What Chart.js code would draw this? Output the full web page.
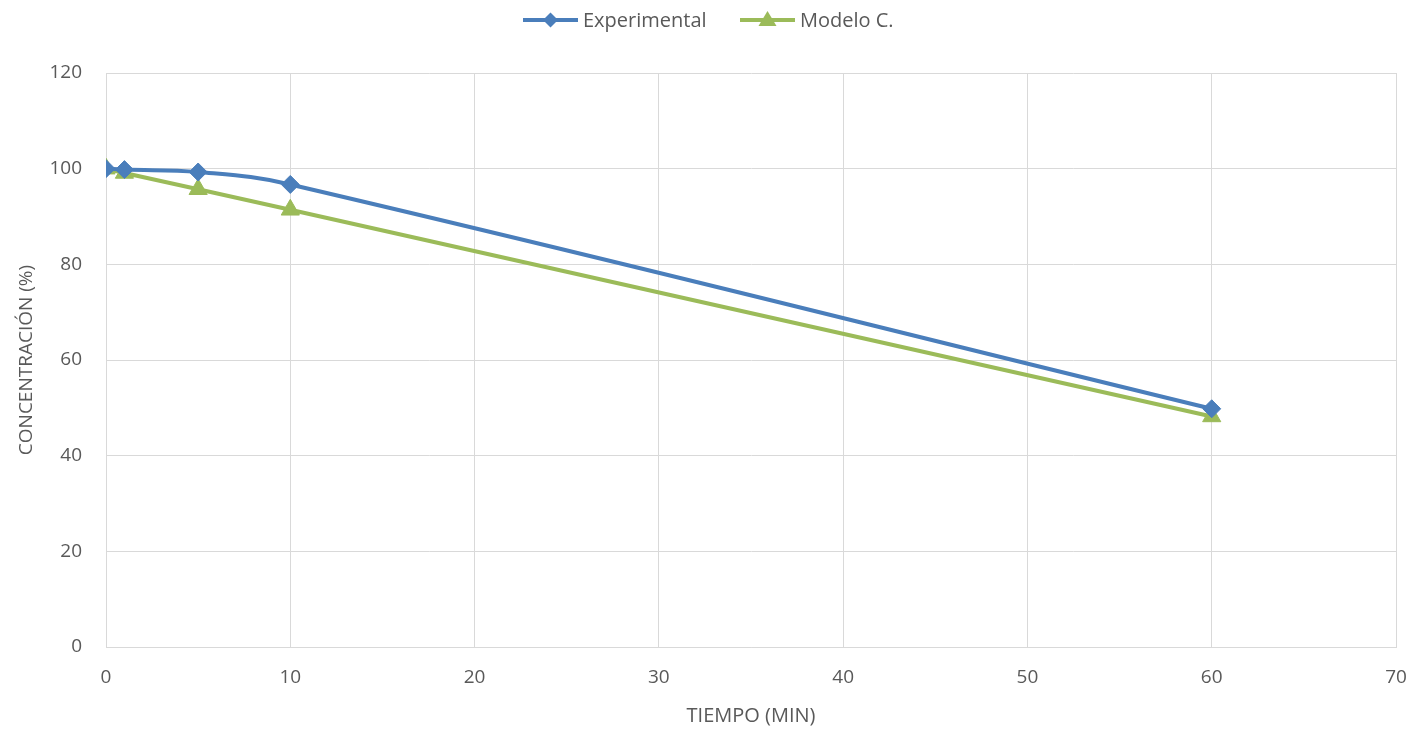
<!DOCTYPE html>
<html><head><meta charset="utf-8">
<script src="https://cdn.jsdelivr.net/npm/chart.js@4.4.1/dist/chart.umd.min.js"></script>
<style>html,body{margin:0;padding:0;background:#fff}#wrap{width:1414px;height:729px}</style>
</head><body><div id="wrap"><canvas id="c" width="1414" height="729"></canvas></div>
<script>
const tiempo = [0, 1, 5, 10, 60];
const experimental = [100, 99.8, 99.3, 96.7, 49.8];
const modelo = [100, 99.1, 95.7, 91.4, 48.2];
const xTicks = [0, 10, 20, 30, 40, 50, 60, 70];
const yTicks = [0, 20, 40, 60, 80, 100, 120];
const seriesNames = ['Experimental', 'Modelo C.'];

const toXY = (xs, ys) => xs.map((x, i) => ({x: x, y: ys[i]}));
const font = "'Open Sans', 'Liberation Sans', sans-serif";
const grey = '#595959';
new Chart(document.getElementById('c'), {
  type: 'line',
  data: { datasets: [
    { label: seriesNames[0], data: toXY(tiempo, experimental), borderColor: '#4a7ebb', backgroundColor: '#4a7ebb',
      borderWidth: 4, pointStyle: 'rectRot', pointRadius: 9, pointHoverRadius: 9, pointBorderWidth: 1, tension: 0.4 },
    { label: seriesNames[1], data: toXY(tiempo, modelo), borderColor: '#9bbb59', backgroundColor: '#9bbb59',
      borderWidth: 4, pointStyle: 'triangle', pointRadius: 10.5, pointHoverRadius: 10.5, pointBorderWidth: 1, tension: 0 }
  ]},
  options: {
    responsive: false, animation: false,
    layout: { padding: { top: 73, right: 18, left: 0, bottom: 0 } },
    plugins: { legend: { display: false }, tooltip: { enabled: false } },
    scales: {
      x: { type: 'linear', min: 0, max: 70, afterBuildTicks: a => { a.ticks = xTicks.map(v => ({value: v})); },
        afterFit: s => { s.height = 82; s.paddingRight = 0; s.paddingLeft = 0; },
        grid: { color: '#d9d9d9', lineWidth: 1, drawTicks: false }, border: { color: '#d9d9d9' },
        ticks: { font: { family: font, size: 19 }, color: grey, padding: 19, maxRotation: 0 },
        title: { display: true, text: 'TIEMPO (MIN)', font: { family: font, size: 20 }, color: grey, padding: { top: 0, bottom: 1 } } },
      y: { min: 0, max: 120, afterBuildTicks: a => { a.ticks = yTicks.map(v => ({value: v})); },
        afterFit: s => { s.width = 106; s.paddingTop = 0; s.paddingBottom = 0; },
        grid: { color: '#d9d9d9', lineWidth: 1, drawTicks: false }, border: { color: '#d9d9d9' },
        ticks: { font: { family: font, size: 19 }, color: grey, padding: 24 },
        title: { display: true, text: 'CONCENTRACIÓN (%)', font: { family: font, size: 19 }, color: grey, padding: { top: 15, bottom: 0 } } }
    }
  },
  plugins: [{
    id: 'customLegend',
    afterDraw(chart) {
      const ctx = chart.ctx;
      const items = [
        { x0: 523, x1: 578, tx: 583, ds: chart.data.datasets[0], shape: 'd' },
        { x0: 740, x1: 795, tx: 800, ds: chart.data.datasets[1], shape: 't' }
      ];
      const y = 20;
      items.forEach(it => {
        ctx.save(); ctx.strokeStyle = it.ds.borderColor; ctx.lineWidth = 4;
        ctx.beginPath(); ctx.moveTo(it.x0, y); ctx.lineTo(it.x1, y); ctx.stroke();
        ctx.fillStyle = it.ds.borderColor; const cx = (it.x0 + it.x1) / 2;
        ctx.beginPath();
        if (it.shape === 'd') { ctx.moveTo(cx, y - 7.5); ctx.lineTo(cx + 7.5, y); ctx.lineTo(cx, y + 7.5); ctx.lineTo(cx - 7.5, y); }
        else { ctx.moveTo(cx, y - 9); ctx.lineTo(cx + 9, y + 6); ctx.lineTo(cx - 9, y + 6); }
        ctx.closePath(); ctx.fill();
        ctx.fillStyle = grey; ctx.font = '20px ' + font; ctx.textBaseline = 'middle'; ctx.textAlign = 'left';
        ctx.fillText(it.ds.label, it.tx, y + 1);
        ctx.restore();
      });
    }
  }]
});
</script></body></html>
